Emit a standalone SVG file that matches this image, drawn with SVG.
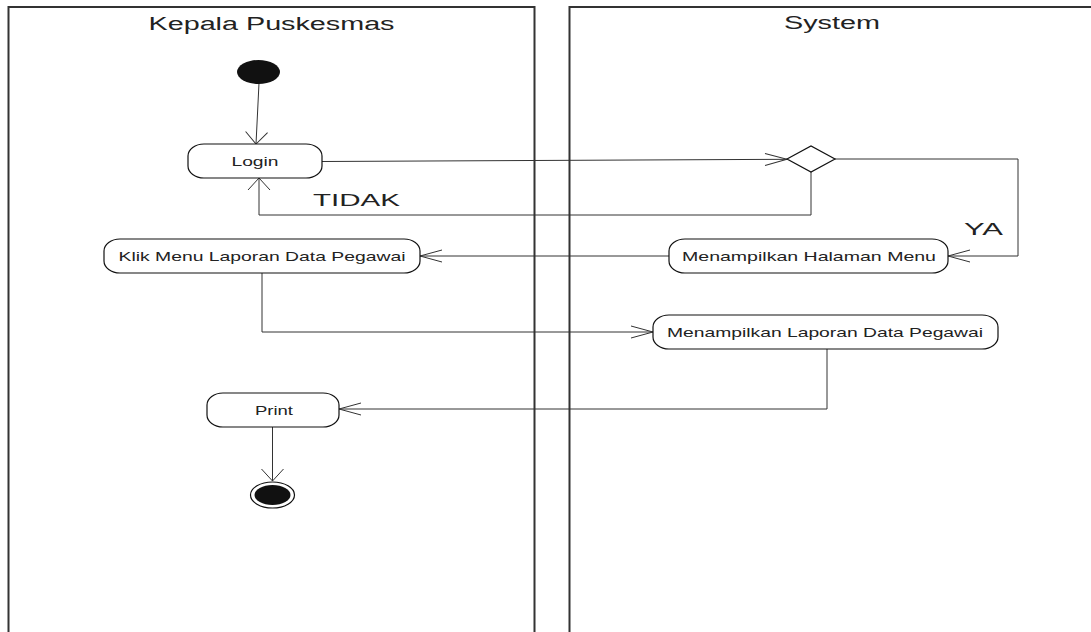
<svg xmlns="http://www.w3.org/2000/svg" width="1091" height="632" viewBox="0 0 1091 632">
<style>
.lane{fill:none;stroke:#333;stroke-width:2}
.hdr{font-family:"Liberation Sans",Arial,sans-serif;font-size:18px;fill:#222;text-anchor:middle}
.node{fill:#fff;stroke:#111;stroke-width:1.2}
.lbl{font-family:"Liberation Sans",Arial,sans-serif;font-size:13px;fill:#222;text-anchor:middle}
.guard{font-family:"Liberation Sans",Arial,sans-serif;font-size:16px;fill:#222}
.con{fill:none;stroke:#333;stroke-width:1}
</style>
<defs>
<marker id="arrH" markerUnits="userSpaceOnUse" markerWidth="30" markerHeight="30" viewBox="-25 -15 30 30" refX="0" refY="0" orient="auto">
<path d="M-22,-6 L0,0 L-22,6" fill="none" stroke="#333" stroke-width="1"/>
</marker>
<marker id="arrV" markerUnits="userSpaceOnUse" markerWidth="30" markerHeight="30" viewBox="-25 -15 30 30" refX="0" refY="0" orient="auto">
<path d="M-12,-11 L0,0 L-12,11" fill="none" stroke="#333" stroke-width="1"/>
</marker>
</defs>
<rect width="1091" height="632" fill="#fff"/>
<g id="lane-kepala">
<path class="lane" d="M8.5,640 V7 H534.5 V640"/>
<text class="hdr" x="271.5" y="30" textLength="246" lengthAdjust="spacingAndGlyphs">Kepala Puskesmas</text>
</g>
<g id="lane-system">
<path class="lane" d="M569.5,640 V7 H1100"/>
<text class="hdr" x="832" y="29" textLength="96" lengthAdjust="spacingAndGlyphs">System</text>
</g>
<g id="connectors">
<line class="con" x1="259" y1="83" x2="256" y2="144" marker-end="url(#arrV)"/>
<line class="con" x1="322" y1="161.5" x2="787" y2="159.3" marker-end="url(#arrH)"/>
<polyline class="con" points="811,172 811,215 259,215 259,178" marker-end="url(#arrV)"/>
<polyline class="con" points="835,159 1018,159 1018,256 948,256" marker-end="url(#arrH)"/>
<line class="con" x1="669" y1="256" x2="420" y2="256" marker-end="url(#arrH)"/>
<polyline class="con" points="262,273 262,332 653,332" marker-end="url(#arrH)"/>
<polyline class="con" points="827,349 827,409 339,409" marker-end="url(#arrH)"/>
<line class="con" x1="272.5" y1="427" x2="272.5" y2="481" marker-end="url(#arrV)"/>
<text class="guard" x="313" y="206" textLength="87" lengthAdjust="spacingAndGlyphs">TIDAK</text>
<text class="guard" x="964" y="235" textLength="39" lengthAdjust="spacingAndGlyphs">YA</text>
</g>
<g id="start">
<ellipse cx="258.5" cy="72" rx="21.5" ry="12" fill="#111"/>
</g>
<g id="login">
<rect class="node" x="188" y="144" width="134" height="34" rx="16" ry="12"/>
<text class="lbl" x="255" y="165.5" textLength="47" lengthAdjust="spacingAndGlyphs">Login</text>
</g>
<g id="decision">
<polygon class="node" points="787,159 811,146 835,159 811,172"/>
</g>
<g id="menampilkan-halaman-menu">
<rect class="node" x="669" y="239" width="279" height="34" rx="16" ry="12"/>
<text class="lbl" x="809" y="260.5" textLength="254" lengthAdjust="spacingAndGlyphs">Menampilkan Halaman Menu</text>
</g>
<g id="klik-menu">
<rect class="node" x="104" y="239" width="316" height="34" rx="16" ry="12"/>
<text class="lbl" x="262" y="260.5" textLength="287" lengthAdjust="spacingAndGlyphs">Klik Menu Laporan Data Pegawai</text>
</g>
<g id="menampilkan-laporan">
<rect class="node" x="653" y="315" width="345" height="34" rx="16" ry="12"/>
<text class="lbl" x="825" y="336.5" textLength="316" lengthAdjust="spacingAndGlyphs">Menampilkan Laporan Data Pegawai</text>
</g>
<g id="print">
<rect class="node" x="207" y="393" width="132" height="34" rx="16" ry="12"/>
<text class="lbl" x="274" y="414.5" textLength="38" lengthAdjust="spacingAndGlyphs">Print</text>
</g>
<g id="end">
<ellipse cx="272.5" cy="495" rx="22" ry="13" fill="#fff" stroke="#111" stroke-width="1.2"/>
<ellipse cx="272.5" cy="495" rx="18" ry="10" fill="#111"/>
</g>
</svg>
